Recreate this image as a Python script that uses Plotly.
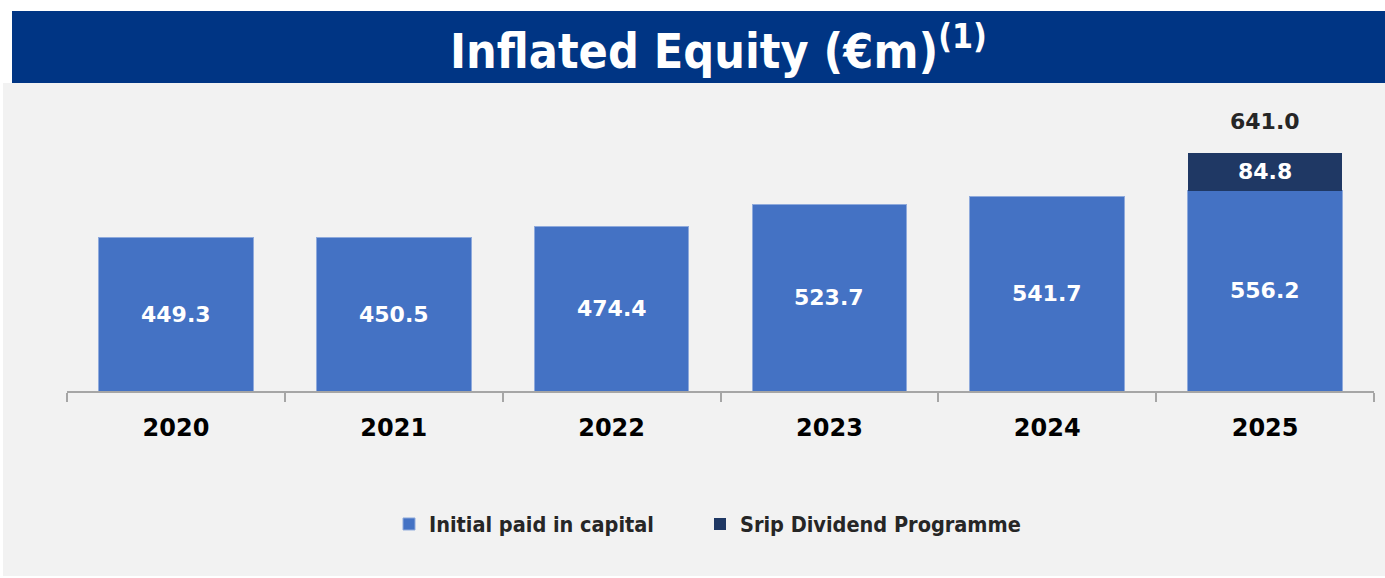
import plotly.graph_objects as go

years = ["2020", "2021", "2022", "2023", "2024", "2025"]
initial_paid = [449.3, 450.5, 474.4, 523.7, 541.7, 556.2]
scrip_dividend = [0, 0, 0, 0, 0, 84.8]
total_2025 = 641.0

W, H = 1385, 578
L, R, T, B = 67, 1374, 100, 391
Y_MIN, Y_MAX = 104, 760.3

def px(x):
    return (x - L) / (R - L)

def py(y):
    return (B - y) / (B - T)

FONT = "DejaVu Sans"
COND = "DejaVu Sans Condensed, DejaVu Sans"

fig = go.Figure()
fig.add_trace(go.Bar(
    x=years, y=initial_paid, name="Initial paid in capital",
    width=0.71, legend="legend",
    marker=dict(color="#4472c4", line=dict(color="#8faadc", width=1)),
))
fig.add_trace(go.Bar(
    x=years, y=scrip_dividend, name="Srip Dividend Programme",
    width=0.71, legend="legend2",
    marker=dict(color="#1f3864", line=dict(width=0)),
))

lab_font = dict(family=FONT, size=22, color="white", weight="bold")
for i, (yr, v) in enumerate(zip(years, initial_paid)):
    fig.add_annotation(x=i, y=(Y_MIN + v) / 2, xref="x", yref="y", text=f"{v:.1f}",
                       showarrow=False, font=lab_font)
    s = scrip_dividend[i]
    if s:
        fig.add_annotation(x=i, y=v + s / 2, xref="x", yref="y", text=f"{s:.1f}",
                           showarrow=False, font=lab_font)

fig.add_annotation(x=5, y=total_2025, xref="x", yref="y",
                   text=f"{total_2025:.1f}", showarrow=False, yanchor="bottom",
                   yshift=17,
                   font=dict(family=FONT, size=22, color="#262626", weight="bold"))

# Title
fig.add_annotation(x=px(718), y=py(48), xref="paper", yref="paper",
                   text="Inflated Equity (€m)<sup>(1)</sup>", showarrow=False,
                   xanchor="center", yanchor="middle",
                   font=dict(family=COND, size=48, color="white", weight="bold"))

shapes = [
    dict(type="rect", xref="paper", yref="paper", x0=px(3), x1=px(1385),
         y0=py(576), y1=py(83), fillcolor="#f2f2f2", line=dict(width=0), layer="below"),
    dict(type="rect", xref="paper", yref="paper", x0=px(12), x1=px(1385),
         y0=py(83), y1=py(11), fillcolor="#003584", line=dict(width=0), layer="below"),
]

leg_font = dict(family=COND, size=21.5, color="#262626", weight="bold")

fig.update_layout(
    width=W, height=H,
    margin=dict(l=L, r=W - R, t=T, b=H - B, autoexpand=False),
    paper_bgcolor="white", plot_bgcolor="rgba(0,0,0,0)",
    barmode="stack",
    shapes=shapes,
    showlegend=True,
    legend=dict(orientation="h", x=px(389), xanchor="left", y=py(524), yanchor="middle",
                font=leg_font, bgcolor="rgba(0,0,0,0)"),
    legend2=dict(orientation="h", x=px(700), xanchor="left", y=py(524), yanchor="middle",
                 font=leg_font, bgcolor="rgba(0,0,0,0)"),
    xaxis=dict(type="category", range=[-0.5, 5.5], autorange=False,
               showgrid=False, showline=True, linecolor="#a6a6a6", linewidth=2,
               ticks="outside", tickson="boundaries", ticklen=9, tickcolor="#a6a6a6",
               tickwidth=2, tickangle=0, ticklabelstandoff=14,
               tickfont=dict(family=FONT, size=24, color="black", weight="bold")),
    yaxis=dict(range=[Y_MIN, Y_MAX], autorange=False, visible=False, showgrid=False),
)

fig.write_html("out.html", config={"displayModeBar": False},
               post_script="document.body.style.margin='0px';")
